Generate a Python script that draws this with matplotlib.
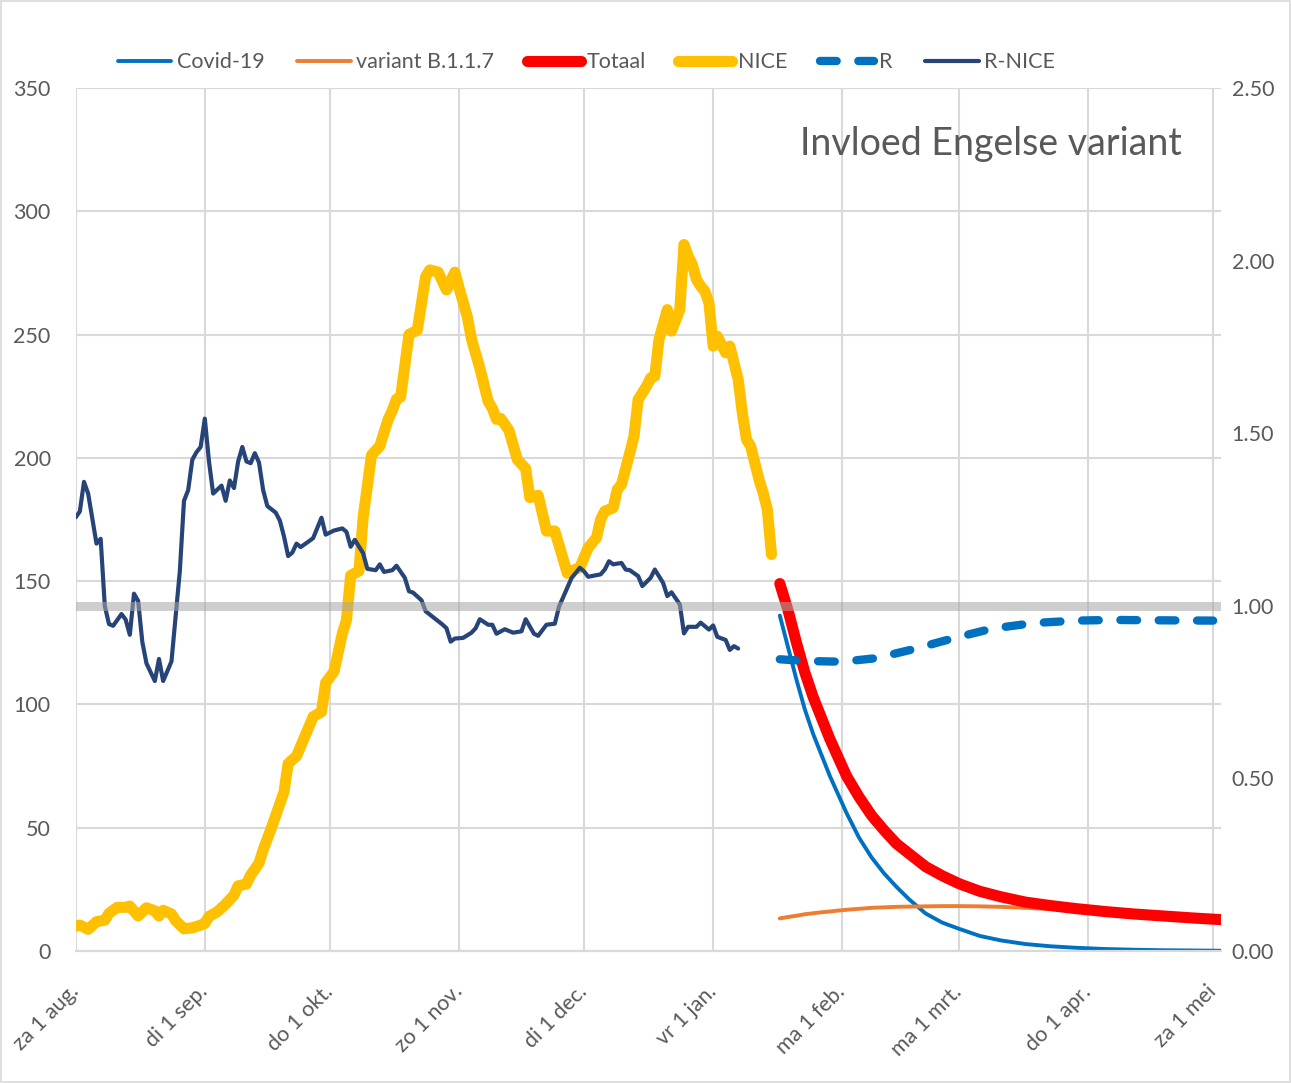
import numpy as np
import matplotlib.pyplot as plt
import matplotlib.dates as mdates
from matplotlib.patches import Rectangle

plt.rcParams['font.family'] = ['Lato', 'DejaVu Sans']

start = np.datetime64('2020-08-01')

# NICE: days since 1 aug 2020, patients
nice_day = [0, 1, 3, 5, 7, 8, 10, 12, 13, 15, 17, 19, 20, 21, 23, 24, 26, 28, 30, 31,
            32, 34, 36, 38, 39, 41, 42, 44, 45, 47, 50, 51, 53, 57, 59, 60, 62, 64, 65, 66,
            68, 69, 71, 73, 75, 76, 77, 78, 80, 82, 84, 85, 87, 88, 89, 91, 92, 94, 95, 97,
            99, 100, 101, 102, 104, 106, 108, 109, 111, 113, 115, 118, 119, 121, 123, 125, 126, 127, 129, 130,
            131, 133, 134, 135, 137, 138, 139, 140, 142, 143, 145, 146, 147, 148, 149, 150, 151, 152, 153, 154,
            156, 157, 159, 160, 161, 162, 164, 165, 166, 167]
nice_val = [10, 10.5, 8.8, 11.9, 12.5, 15.3, 17.7, 17.7, 18.2, 14.2, 17.5, 16.3, 14.2, 16.5, 15, 12.3, 9.0, 9.4, 10.5, 11.2,
            14, 15.9, 19, 22.7, 26.4, 27.2, 30.8, 35.6, 41, 50, 64.5, 76, 79, 95, 97, 108.8, 113.3, 128.7, 134.2, 152.3,
            154.1, 175.8, 201.1, 204.8, 215.6, 219.2, 223.8, 224.7, 250, 251.8, 273.5, 276.2, 275.3, 271.7, 268.1, 275.3, 269, 257.2, 248.2, 236.4,
            222.9, 220.1, 215.6, 216, 211.1, 199.3, 195.7, 183.9, 184.8, 170.3, 170.3, 153.2, 154.1, 155.5, 163.5, 167.6, 175, 178.4, 179.7, 187.2,
            189.2, 202, 208.8, 223.6, 229, 232.4, 233.1, 248, 260.1, 251.4, 260.1, 286.5, 281.8, 278.4, 272.3, 269.6, 267.6, 262.8, 245.3, 249.3,
            242.6, 245.3, 231.8, 218.2, 207.4, 204.7, 191.2, 185.8, 179.1, 160.8]

# R-NICE (right axis)
rnice_day = [0, 1, 2, 3, 5, 6, 7, 8, 9, 11, 12, 13, 14, 15, 16, 17, 19, 20, 21, 23,
             24, 25, 26, 27, 28, 29, 30, 31, 32, 33, 35, 36, 37, 38, 39, 40, 41, 42, 43, 44,
             45, 46, 48, 49, 50, 51, 52, 53, 54, 56, 57, 59, 60, 62, 64, 65, 66, 67, 69, 70,
             72, 73, 74, 76, 77, 79, 80, 81, 83, 84, 86, 88, 89, 90, 91, 93, 95, 96, 97, 99,
             100, 101, 103, 105, 107, 108, 110, 111, 113, 115, 116, 119, 120, 121, 122, 123, 126, 127, 128, 129,
             131, 132, 133, 135, 136, 138, 139, 141, 142, 143, 145, 146, 147, 149, 150, 152, 153, 154, 156, 157,
             158, 159]
rnice_val = [1.256, 1.273, 1.359, 1.325, 1.180, 1.194, 0.999, 0.947, 0.942, 0.976, 0.960, 0.916, 1.035, 1.014, 0.895, 0.833, 0.782, 0.846, 0.782, 0.839,
             0.97, 1.10, 1.304, 1.335, 1.423, 1.445, 1.460, 1.542, 1.418, 1.325, 1.348, 1.304, 1.363, 1.341, 1.418, 1.460, 1.418, 1.413, 1.442, 1.415,
             1.335, 1.289, 1.270, 1.247, 1.201, 1.144, 1.154, 1.180, 1.170, 1.187, 1.196, 1.255, 1.206, 1.218, 1.224, 1.214, 1.171, 1.191, 1.152, 1.107,
             1.103, 1.120, 1.098, 1.103, 1.116, 1.081, 1.042, 1.038, 1.016, 0.984, 0.965, 0.946, 0.935, 0.896, 0.905, 0.907, 0.922, 0.935, 0.961, 0.945,
             0.945, 0.919, 0.932, 0.922, 0.926, 0.961, 0.919, 0.913, 0.945, 0.948, 0.997, 1.080, 1.095, 1.110, 1.100, 1.084, 1.091, 1.105, 1.129, 1.120,
             1.124, 1.105, 1.103, 1.086, 1.057, 1.081, 1.105, 1.066, 1.028, 1.039, 1.004, 0.920, 0.939, 0.939, 0.951, 0.931, 0.943, 0.910, 0.901, 0.872,
             0.883, 0.876]

# prognosis
pred_day = [169, 171, 173, 175, 177, 179, 181, 183, 185, 188, 191, 194, 197, 200, 204, 208, 212, 217, 222, 228,
            234, 240, 247, 254, 261, 268, 275]
covid_val = [136, 123, 110, 98, 88, 79.5, 71, 63.5, 56, 46, 38, 31.5, 26, 21, 15.2, 11.5, 9, 6.1, 4.3, 2.8,
             1.9, 1.3, 0.8, 0.5, 0.3, 0.2, 0.1]
variant_val = [13.2, 13.8, 14.3, 14.9, 15.3, 15.7, 16.0, 16.4, 16.7, 17.1, 17.5, 17.7, 17.9, 18.0, 18.1, 18.2, 18.2, 18.1, 17.9, 17.5,
               17.0, 16.5, 15.6, 14.8, 14.0, 13.3, 12.6]
totaal_val = [149, 138, 125, 113, 103, 94.5, 86, 78.5, 71, 62.5, 55, 49, 43.5, 39.5, 34.2, 30.5, 27.3, 24.2, 22, 19.8,
              18.4, 17.2, 16, 15, 14.2, 13.4, 12.7]

r_day = [169, 175, 184, 192, 201, 211, 220, 230, 240, 249, 258, 273]
r_val = [0.845, 0.840, 0.838, 0.848, 0.874, 0.907, 0.934, 0.950, 0.957, 0.959, 0.958, 0.957]

month_ticks = ['2020-08-01', '2020-09-01', '2020-10-01', '2020-11-01', '2020-12-01',
               '2021-01-01', '2021-02-01', '2021-03-01', '2021-04-01', '2021-05-01']
month_labels = ['za 1 aug.', 'di 1 sep.', 'do 1 okt.', 'zo 1 nov.', 'di 1 dec.',
                'vr 1 jan.', 'ma 1 feb.', 'ma 1 mrt.', 'do 1 apr.', 'za 1 mei']
left_ticks = [0, 50, 100, 150, 200, 250, 300, 350]
right_ticks = [0.0, 0.5, 1.0, 1.5, 2.0, 2.5]


def to_dates(days):
    return start + np.array(days).astype('timedelta64[D]')


txt = '#595959'
grid = '#D9D9D9'

fig = plt.figure(figsize=(12.91, 10.83), dpi=100)
ax = fig.add_axes([0.0586, 0.1219, 0.8869, 0.7969])
ax2 = ax.twinx()

kw = dict(solid_capstyle='round', solid_joinstyle='round')
l_covid, = ax.plot(to_dates(pred_day), covid_val, color='#0070C0', lw=2.8, label='Covid-19', **kw)
l_var, = ax.plot(to_dates(pred_day), variant_val, color='#ED7D31', lw=2.8, label='variant B.1.1.7', **kw)
l_tot, = ax.plot(to_dates(pred_day), totaal_val, color='#FF0000', lw=8, label='Totaal', **kw)
l_nice, = ax.plot(to_dates(nice_day), nice_val, color='#FFC000', lw=8, label='NICE', **kw)

l_r, = ax2.plot(to_dates(r_day), r_val, color='#0070C0', lw=6, label='R',
                dashes=(2.0, 2.6), dash_capstyle='round')
l_rn, = ax2.plot(to_dates(rnice_day), rnice_val, color='#264478', lw=3.0, label='R-NICE', **kw)
ax2.axhline(1.0, color='#A6A6A6', alpha=0.55, lw=6.5, zorder=5)

x0 = mdates.date2num(start)
ax.set_xlim(x0, x0 + 274.8)
ax.set_ylim(0, 350)
ax2.set_ylim(0, 2.5)

ax.set_xticks(mdates.date2num(np.array(month_ticks, dtype='datetime64[D]')))
ax.set_xticklabels(month_labels, rotation=45, ha='right', va='center',
                   rotation_mode='anchor', color=txt, fontsize=15.5)
ax.set_yticks(left_ticks)
ax.set_yticklabels([str(v) for v in left_ticks], color=txt, fontsize=15.5)
ax2.set_yticks(right_ticks)
ax2.set_yticklabels(['%.2f' % v for v in right_ticks], color=txt, fontsize=15.5)

ax.tick_params(axis='x', length=0, pad=27)
ax.tick_params(axis='y', length=0, pad=18)
ax2.tick_params(axis='y', length=0, pad=8)

ax.grid(True, color=grid, lw=1.5)
ax.set_axisbelow(True)
for a in (ax, ax2):
    for s in ('top', 'right', 'left'):
        a.spines[s].set_visible(False)
    a.spines['bottom'].set_color(grid)
    a.spines['bottom'].set_linewidth(1.5)

fig.text(0.9153, 0.8569, 'Invloed Engelse variant', ha='right', va='baseline',
         fontsize=27, color=txt)

fig.legend(handles=[l_covid, l_var, l_tot, l_nice, l_r, l_rn], loc='center',
           bbox_to_anchor=(0.4543, 0.9427), ncol=6, frameon=False, fontsize=15.5,
           handlelength=2.5, handletextpad=0.25, columnspacing=1.52, labelcolor=txt)

fig.patches.append(Rectangle((0.001, 0.001), 0.998, 0.998, transform=fig.transFigure,
                             fill=False, edgecolor=grid, lw=1.2))

fig.savefig('out.png', dpi=100)
